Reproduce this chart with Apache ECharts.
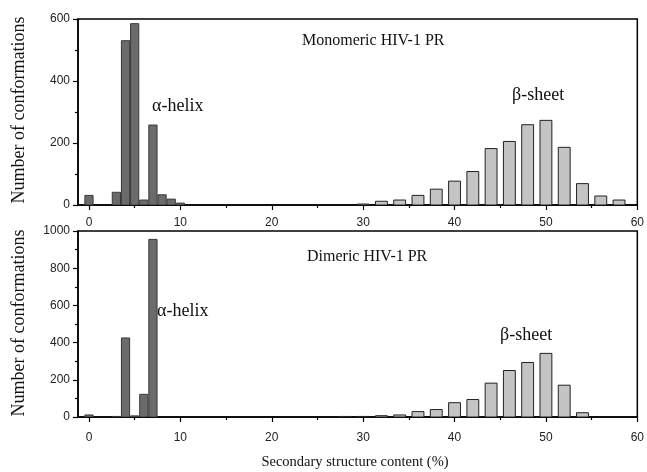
<!DOCTYPE html>
<html>
<head>
<meta charset="utf-8">
<script src="https://cdn.jsdelivr.net/npm/echarts@6/dist/echarts.min.js"></script>
<style>html,body{margin:0;padding:0;background:#fff}#c{width:647px;height:472px}</style>
</head>
<body>
<div id="c"></div>
<script>
// ---- data ----
const topAlphaX = [0, 3, 4, 5, 6, 7, 8, 9, 10];
const topAlphaY = [31, 41, 530, 585, 16, 258, 33, 19, 6];
const topBetaX = [30, 32, 34, 36, 38, 40, 42, 44, 46, 48, 50, 52, 54, 56, 58];
const topBetaY = [3, 12, 16, 31, 51, 77, 108, 182, 205, 259, 273, 186, 69, 29, 16];
const botAlphaX = [0, 3, 4, 5, 6, 7];
const botAlphaY = [11, 3, 425, 6, 122, 955];
const botBetaX = [28, 30, 32, 34, 36, 38, 40, 42, 44, 46, 48, 50, 52, 54];
const botBetaY = [3, 3, 7, 11, 29, 40, 77, 94, 182, 250, 293, 342, 171, 23];
const xMajorTicks = [0, 10, 20, 30, 40, 50, 60];
const xMinorTicks = [5, 15, 25, 35, 45, 55];
const topYTicks = [0, 200, 400, 600];
const botYTicks = [0, 200, 400, 600, 800, 1000];

const SANS = 'Liberation Sans, Arial, sans-serif';
const SERIF = 'Liberation Serif, Times New Roman, serif';

const chart = echarts.init(document.getElementById('c'));

function zip(xs, ys) { return xs.map((x, i) => [x, ys[i]]); }

function barRenderer(w, fill, stroke) {
  return function (params, api) {
    const x = api.value(0), y = api.value(1);
    const p0 = api.coord([x - w / 2, y]);
    const p1 = api.coord([x + w / 2, 0]);
    return {
      type: 'rect',
      shape: { x: p0[0], y: p0[1], width: p1[0] - p0[0], height: p1[1] - p0[1] },
      style: { fill: fill, stroke: stroke, lineWidth: 1 }
    };
  };
}

function xMajor(gi, margin) {
  return {
    type: 'value', gridIndex: gi, min: -1.2, max: 60, position: 'bottom',
    axisLine: { show: true, onZero: false, lineStyle: { color: '#000', width: 1.5 } },
    axisTick: { show: true, customValues: xMajorTicks, length: 5, lineStyle: { color: '#000', width: 1.2 } },
    axisLabel: { show: true, customValues: xMajorTicks, margin: margin, fontFamily: SANS, fontSize: 12, color: '#222' },
    splitLine: { show: false }
  };
}
function xMinor(gi) {
  return {
    type: 'value', gridIndex: gi, min: -1.2, max: 60, position: 'bottom',
    axisLine: { show: false, onZero: false },
    axisTick: { show: true, customValues: xMinorTicks, length: 3, lineStyle: { color: '#000', width: 1.2 } },
    axisLabel: { show: false },
    splitLine: { show: false }
  };
}
function yAxis(gi, max, ticks) {
  return {
    type: 'value', gridIndex: gi, min: 0, max: max, interval: 200, position: 'left',
    axisLine: { show: true, onZero: false, lineStyle: { color: '#000', width: 1.5 } },
    axisTick: { show: true, inside: false, length: 5, lineStyle: { color: '#000', width: 1.2 } },
    minorTick: { show: true, splitNumber: 2, length: 3, lineStyle: { color: '#000', width: 1.2 } },
    axisLabel: { show: true, margin: 8, fontFamily: SANS, fontSize: 12, color: '#222',
      formatter: v => (ticks.indexOf(v) >= 0 ? String(v) : '') },
    splitLine: { show: false }
  };
}

const ALPHA_FILL = '#6b6b6b', ALPHA_STROKE = '#3a3a3a';
const BETA_FILL = '#c4c4c4', BETA_STROKE = '#222';

chart.setOption({
  animation: false,
  grid: [
    { left: 78, right: 9, top: 19, height: 186, show: true, borderColor: '#000', borderWidth: 1.5, backgroundColor: 'transparent' },
    { left: 78, right: 9, top: 231, height: 186, show: true, borderColor: '#000', borderWidth: 1.5, backgroundColor: 'transparent' }
  ],
  xAxis: [xMajor(0, 12), xMinor(0), xMajor(1, 15), xMinor(1)],
  yAxis: [yAxis(0, 600, topYTicks), yAxis(1, 1000, botYTicks)],
  series: [
    { type: 'custom', xAxisIndex: 0, yAxisIndex: 0, data: zip(topAlphaX, topAlphaY), renderItem: barRenderer(0.9, ALPHA_FILL, ALPHA_STROKE), clip: true },
    { type: 'custom', xAxisIndex: 0, yAxisIndex: 0, data: zip(topBetaX, topBetaY), renderItem: barRenderer(1.3, BETA_FILL, BETA_STROKE), clip: true },
    { type: 'custom', xAxisIndex: 2, yAxisIndex: 1, data: zip(botAlphaX, botAlphaY), renderItem: barRenderer(0.9, ALPHA_FILL, ALPHA_STROKE), clip: true },
    { type: 'custom', xAxisIndex: 2, yAxisIndex: 1, data: zip(botBetaX, botBetaY), renderItem: barRenderer(1.3, BETA_FILL, BETA_STROKE), clip: true }
  ],
  graphic: [
    { type: 'text', x: 302, y: 41, style: { text: 'Monomeric HIV-1 PR', font: '16px ' + SERIF, fill: '#111', verticalAlign: 'middle' } },
    { type: 'text', x: 307, y: 257, style: { text: 'Dimeric HIV-1 PR', font: '16px ' + SERIF, fill: '#111', verticalAlign: 'middle' } },
    { type: 'text', x: 152, y: 106, style: { text: 'α-helix', font: '18px ' + SERIF, fill: '#111', verticalAlign: 'middle' } },
    { type: 'text', x: 157, y: 311, style: { text: 'α-helix', font: '18px ' + SERIF, fill: '#111', verticalAlign: 'middle' } },
    { type: 'text', x: 512, y: 95, style: { text: 'β-sheet', font: '18px ' + SERIF, fill: '#111', verticalAlign: 'middle' } },
    { type: 'text', x: 500, y: 335, style: { text: 'β-sheet', font: '18px ' + SERIF, fill: '#111', verticalAlign: 'middle' } },
    { type: 'text', x: 19, y: 110, rotation: Math.PI / 2, style: { text: 'Number of conformations', font: '18px ' + SERIF, fill: '#111', align: 'center', verticalAlign: 'middle' } },
    { type: 'text', x: 19, y: 323, rotation: Math.PI / 2, style: { text: 'Number of conformations', font: '18px ' + SERIF, fill: '#111', align: 'center', verticalAlign: 'middle' } },
    { type: 'text', x: 355, y: 462, style: { text: 'Secondary structure content (%)', font: '14.5px ' + SERIF, fill: '#111', align: 'center', verticalAlign: 'middle' } }
  ]
});
</script>
</body>
</html>
